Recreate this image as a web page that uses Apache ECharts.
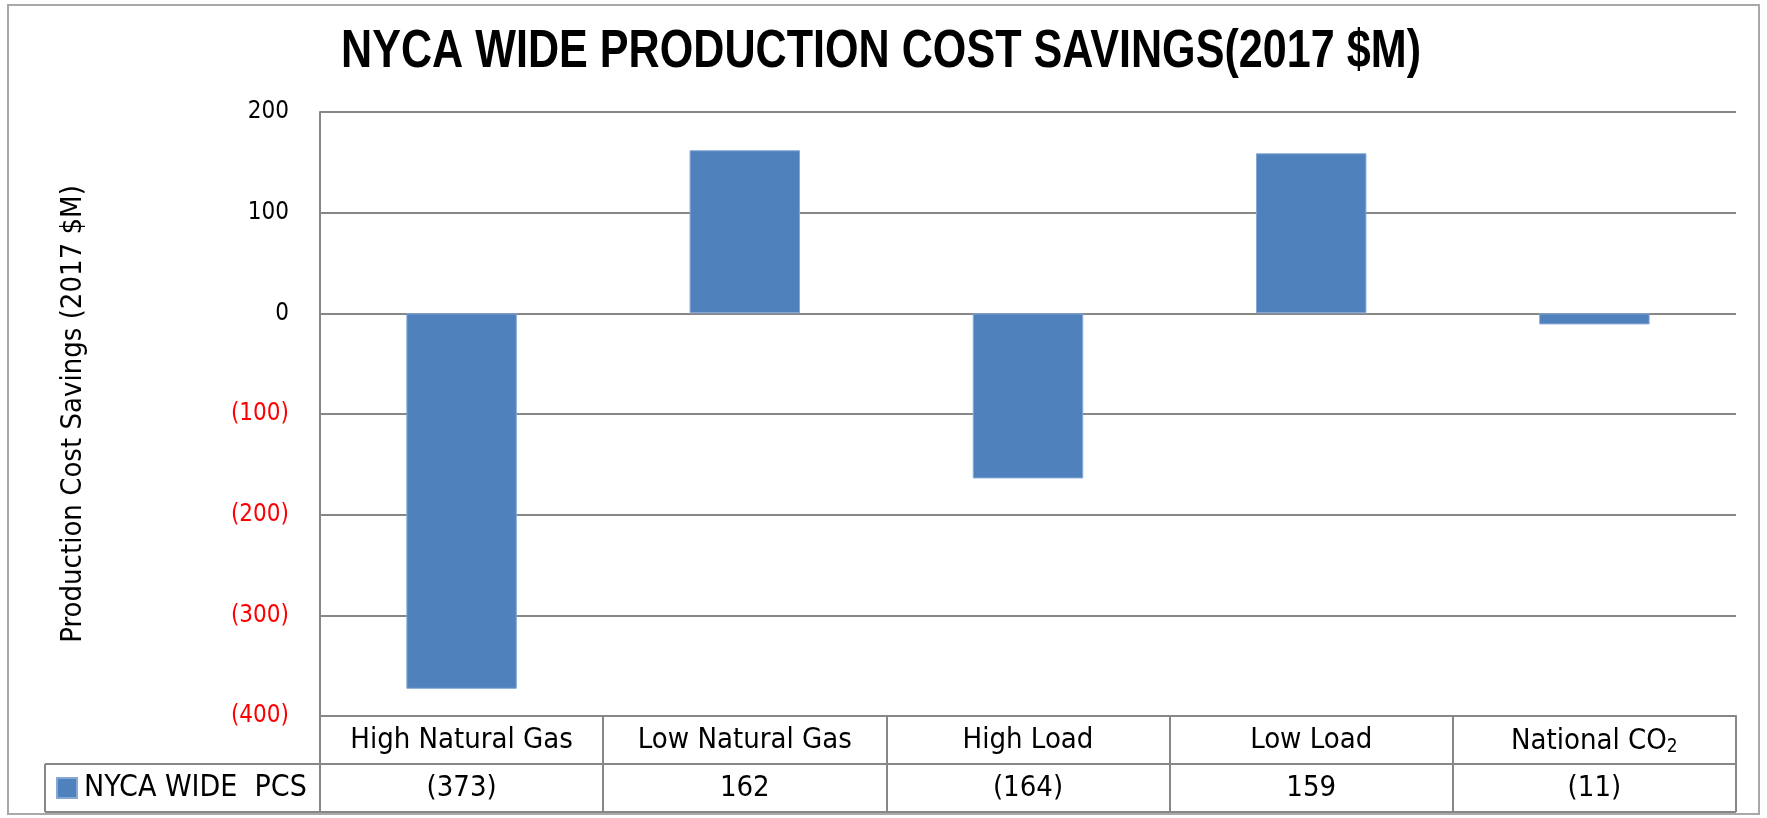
<!DOCTYPE html>
<html>
<head>
<meta charset="utf-8">
<title>NYCA Wide Production Cost Savings</title>
<script src="https://cdn.jsdelivr.net/npm/echarts@6/dist/echarts.min.js"></script>
<style>
  html, body { margin: 0; padding: 0; background: #fff; }
  #chart { width: 1767px; height: 818px; }
</style>
</head>
<body>
<div id="chart"></div>
<script>
// scenarios (x axis / table header row)
var categories = ['High Natural Gas', 'Low Natural Gas', 'High Load', 'Low Load', 'National CO₂'];
// NYCA wide production cost savings, 2017 $M
var pcsValues = [-373, 162, -164, 159, -11];
var seriesName = 'NYCA WIDE  PCS';
// y axis ticks
var yMin = -400;
var yMax = 200;
var yStep = 100;

var titleText = 'NYCA WIDE PRODUCTION COST SAVINGS(2017 $M)';

// no narrow font installed: condensed sans for labels, squeezed Liberation for the title
var FONT = "'DejaVu Sans Condensed', 'Liberation Sans Narrow', sans-serif";
var TITLE_FONT = 'bold 53px "Liberation Sans", Arial, sans-serif';
var GRAY = '#878787';

// accounting style: negatives in brackets
function fmt(v) {
  return v < 0 ? '(' + Math.abs(v) + ')' : String(v);
}

// plot area and data table rows
var W = 1767, H = 818;
var plotLeft = 320, plotRight = 1736, plotTop = 112, plotBottom = 716;
var rowH = 48;
var tableLeft = 45;

// squeeze the title to the width it has in the original (Arial Narrow look)
var titleWidth = 1080;
var ctx = document.createElement('canvas').getContext('2d');
ctx.font = TITLE_FONT;
var titleScale = titleWidth / ctx.measureText(titleText).width;

var chart = echarts.init(document.getElementById('chart'));

chart.setOption({
  backgroundColor: '#fff',
  animation: false,
  legend: {
    left: tableLeft + 11,
    top: plotBottom + rowH + 9,
    icon: 'rect',
    itemWidth: 20,
    itemHeight: 20,
    itemGap: 0,
    padding: 0,
    selectedMode: false,
    textStyle: { fontFamily: FONT, fontSize: 30, color: '#000', padding: [0, 0, 0, 2] },
    data: [seriesName]
  },
  grid: {
    left: plotLeft,
    right: W - plotRight,
    top: plotTop,
    bottom: H - plotBottom,
    containLabel: false
  },
  xAxis: [
    {
      // header row of the data table
      type: 'category',
      data: categories,
      position: 'bottom',
      axisLine: { show: true, onZero: false, lineStyle: { color: GRAY, width: 2 } },
      axisTick: { show: true, interval: 0, length: rowH, lineStyle: { color: GRAY, width: 2 } },
      axisLabel: {
        interval: 0,
        margin: 10,
        fontFamily: FONT,
        fontSize: 29,
        color: '#000',
        formatter: function (v) { return v.replace('₂', '{sub|2}'); },
        rich: { sub: { fontFamily: FONT, fontSize: 19, color: '#000', padding: [12, 0, 0, 0] } }
      },
      splitLine: { show: false }
    },
    {
      // value row of the data table
      type: 'category',
      data: pcsValues.map(fmt),
      position: 'bottom',
      offset: rowH,
      axisLine: { show: true, onZero: false, lineStyle: { color: GRAY, width: 2 } },
      axisTick: { show: true, interval: 0, length: rowH, lineStyle: { color: GRAY, width: 2 } },
      axisLabel: { interval: 0, margin: 10, fontFamily: FONT, fontSize: 29, color: '#000' },
      splitLine: { show: false }
    }
  ],
  yAxis: {
    type: 'value',
    min: yMin,
    max: yMax,
    interval: yStep,
    name: 'Production Cost Savings (2017 $M)',
    nameLocation: 'middle',
    nameRotate: 90,
    nameGap: 232,
    nameTextStyle: { fontFamily: FONT, fontSize: 29, color: '#000' },
    axisLine: { show: true, lineStyle: { color: GRAY, width: 2 } },
    axisTick: { show: false },
    axisLabel: {
      margin: 31,
      fontFamily: FONT,
      fontSize: 24,
      formatter: function (v) { return v < 0 ? '{neg|' + fmt(v) + '}' : '{pos|' + fmt(v) + '}'; },
      rich: {
        neg: { fontFamily: FONT, fontSize: 24, color: '#ff0000' },
        pos: { fontFamily: FONT, fontSize: 24, color: '#000' }
      }
    },
    splitLine: { show: true, lineStyle: { color: GRAY, width: 2 } }
  },
  series: [
    {
      name: seriesName,
      type: 'bar',
      xAxisIndex: 0,
      data: pcsValues,
      barWidth: '39%',
      itemStyle: { color: '#4f81bd', borderColor: '#86a8d6', borderWidth: 1 }
    }
  ],
  graphic: [
    // outer chart border
    {
      type: 'rect',
      shape: { x: 8, y: 5, width: W - 16, height: H - 9 },
      style: { fill: 'none', stroke: '#a8a8a8', lineWidth: 2 },
      silent: true
    },
    // chart title
    {
      type: 'text',
      x: 881,
      y: 52,
      scaleX: titleScale,
      style: { text: titleText, font: TITLE_FONT, fill: '#000', align: 'center', verticalAlign: 'middle' },
      silent: true
    },
    // legend cell of the data table
    {
      type: 'line',
      shape: { x1: tableLeft, y1: plotBottom + rowH, x2: plotLeft, y2: plotBottom + rowH },
      style: { stroke: GRAY, lineWidth: 2 },
      silent: true
    },
    {
      type: 'line',
      shape: { x1: tableLeft, y1: plotBottom + rowH, x2: tableLeft, y2: plotBottom + 2 * rowH },
      style: { stroke: GRAY, lineWidth: 2 },
      silent: true
    },
    {
      type: 'line',
      shape: { x1: tableLeft, y1: plotBottom + 2 * rowH, x2: plotRight, y2: plotBottom + 2 * rowH },
      style: { stroke: GRAY, lineWidth: 2 },
      silent: true
    }
  ]
});
</script>
</body>
</html>
